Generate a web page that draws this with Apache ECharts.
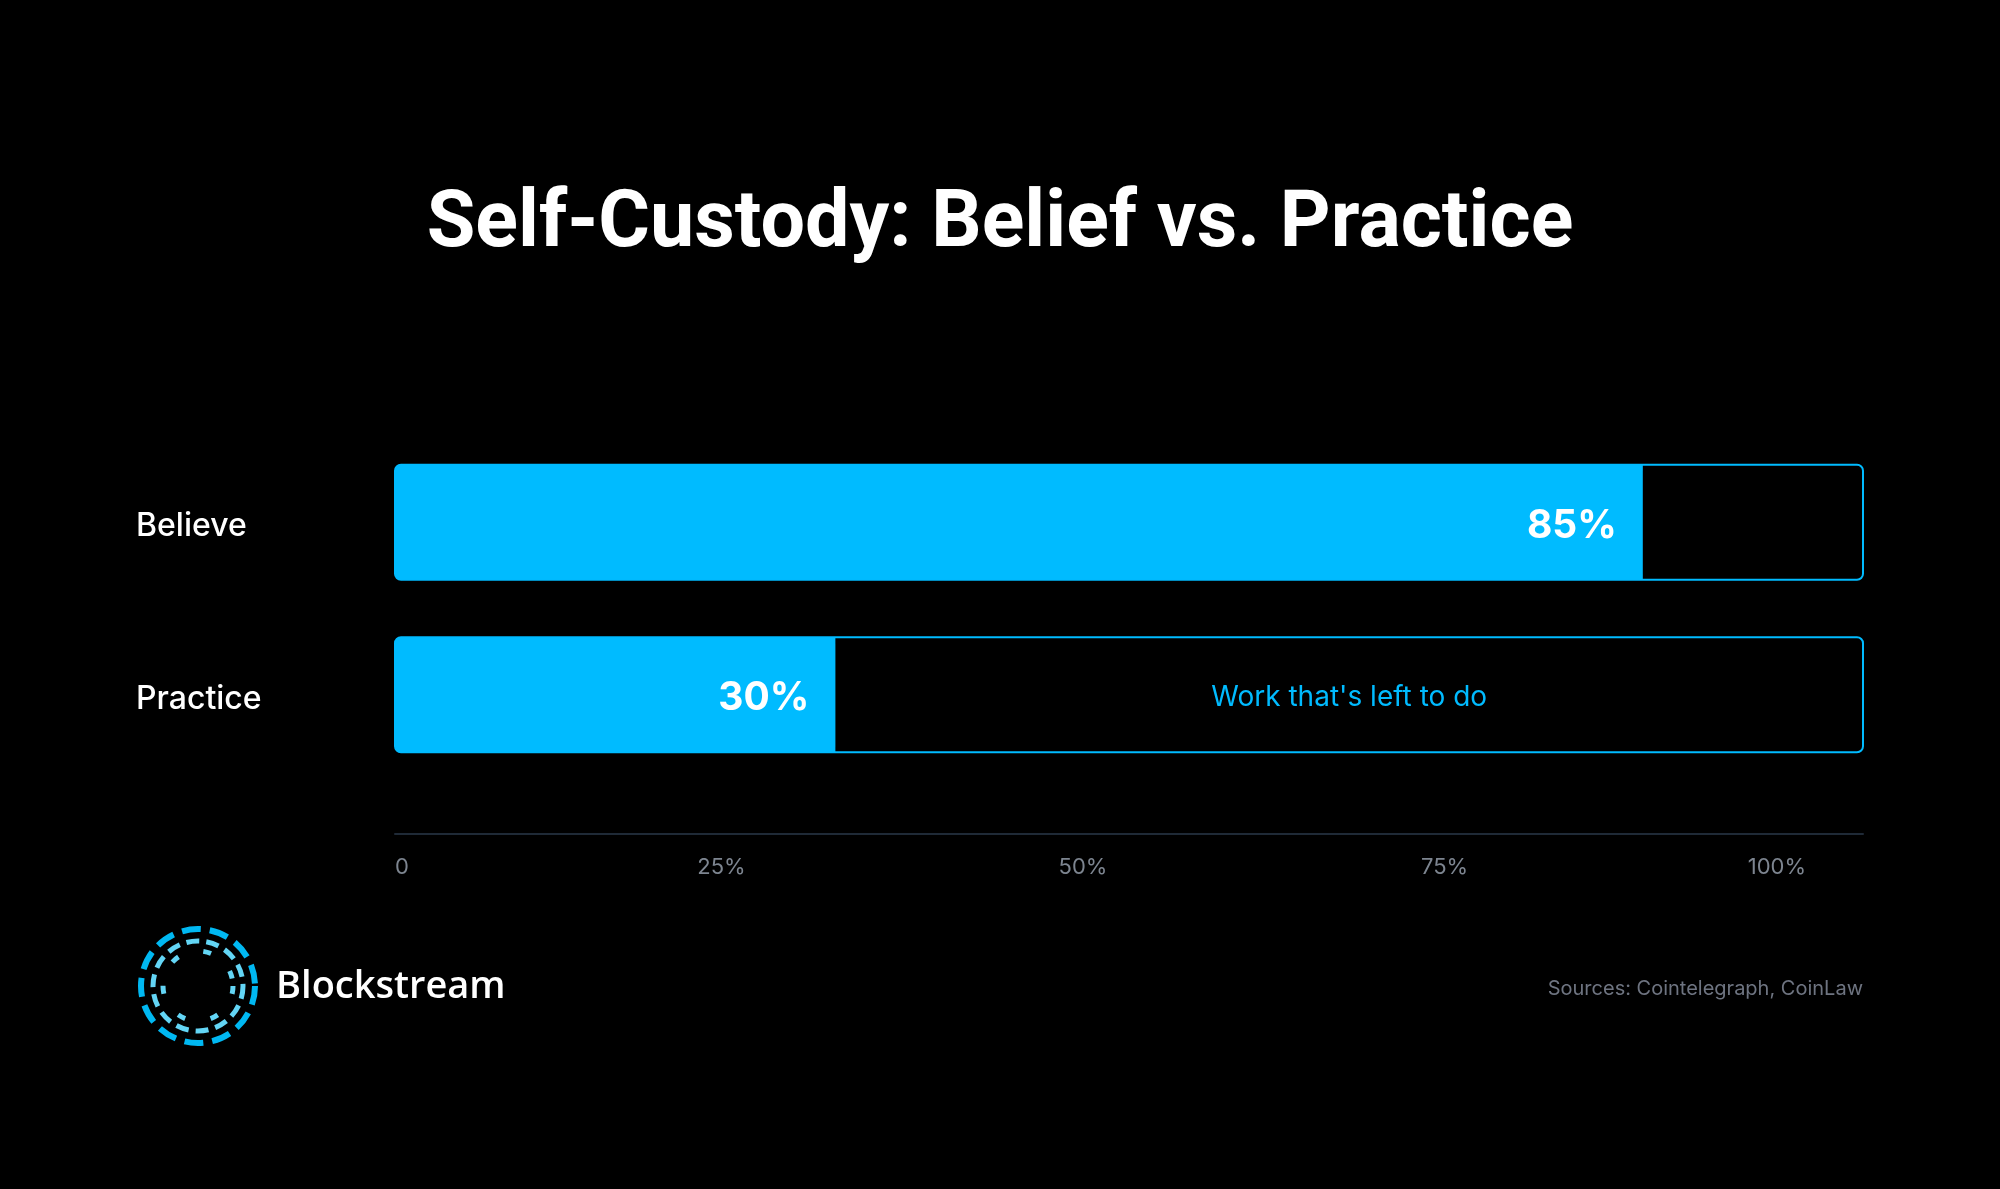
<!DOCTYPE html>
<html>
<head>
<meta charset="utf-8">
<style>
  html, body { margin: 0; padding: 0; background: #000; }
  #chart { width: 2000px; height: 1189px; }
</style>
<script src="https://cdn.jsdelivr.net/npm/echarts@6/dist/echarts.min.js"></script>
</head>
<body>
<div id="chart"></div>
<script>
var categories = ['Believe', 'Practice'];
var values = [85, 30];
var remainNotes = ['', "Work that's left to do"];
var tickValues = [0, 25, 50, 75, 100];
var tickLabels = ['0', '25%', '50%', '75%', '100%'];

var blue = '#00BBFF';
var myChart = echarts.init(document.getElementById('chart'));

var option = {
    backgroundColor: '#000',
    title: {
        text: 'Self-Custody: Belief vs. Practice',
        left: 'center',
        top: 182,
        textStyle: {
            color: '#fff',
            fontFamily: 'Roboto',
            fontWeight: 'bold',
            fontSize: 79
        }
    },
    grid: [
        { left: 395, right: 137, top: 436, height: 345 },
        { left: 360, width: 1446, top: 436, height: 398 }
    ],
    xAxis: [{
        type: 'value',
        min: 0,
        max: 100,
        position: 'bottom',
        offset: 53,
        axisLine: { show: true, lineStyle: { color: '#1f2a37', width: 2 } },
        axisTick: { show: false },
        axisLabel: { show: false },
        splitLine: { show: false }
    }, {
        type: 'value',
        gridIndex: 1,
        min: 0,
        max: 100,
        interval: 25,
        axisLine: { show: false },
        axisTick: { show: false },
        splitLine: { show: false },
        axisLabel: {
            margin: 22,
            color: '#7d8590',
            fontFamily: 'Inter',
            fontSize: 22,
            alignMinLabel: 'left',
            alignMaxLabel: 'right',
            formatter: function (v) {
                var i = tickValues.indexOf(v);
                var t = i >= 0 ? tickLabels[i] : '';
                return i === 0 ? '{first|' + t + '}' : t;
            },
            rich: {
                first: { padding: [0, 0, 0, 35], color: '#7d8590', fontFamily: 'Inter', fontSize: 22 }
            }
        }
    }],
    yAxis: [{
        type: 'category',
        data: categories,
        inverse: true,
        axisLine: { show: false },
        axisTick: { show: false },
        axisLabel: {
            align: 'left',
            margin: 259,
            formatter: '{cat|{value}}',
            rich: {
                cat: {
                    padding: [9, 0, 0, 0],
                    color: '#fff',
                    fontFamily: 'Inter',
                    fontWeight: 500,
                    fontSize: 32
                }
            }
        }
    }, {
        type: 'value',
        gridIndex: 1,
        show: false
    }],
    series: [{
        type: 'bar',
        stack: 'total',
        data: values,
        barWidth: 115,
        showBackground: true,
        backgroundStyle: {
            color: 'rgba(0,0,0,0)',
            borderColor: blue,
            borderWidth: 2,
            borderRadius: 6
        },
        itemStyle: { color: blue, borderRadius: [6, 0, 0, 6] },
        label: {
            show: true,
            position: 'insideRight',
            distance: 26,
            offset: [0, 4],
            formatter: '{c}%',
            color: '#fff',
            fontFamily: 'Inter',
            fontWeight: 'bold',
            fontSize: 39
        }
    }, {
        type: 'bar',
        stack: 'total',
        data: values.map(function (v) { return 100 - v; }),
        barWidth: 115,
        itemStyle: { color: 'rgba(0,0,0,0)' },
        label: {
            show: true,
            position: 'inside',
            offset: [0, 3],
            formatter: function (p) { return remainNotes[p.dataIndex]; },
            color: blue,
            fontFamily: 'Inter',
            fontSize: 28
        }
    }],
    graphic: [
        { type: 'circle', shape: { cx: 198, cy: 986, r: 57 },
          style: { fill: 'none', stroke: '#00b8f2', lineWidth: 6, lineDash: [19, 9] } },
        { type: 'circle', shape: { cx: 198, cy: 986, r: 45 },
          style: { fill: 'none', stroke: '#63d5f5', lineWidth: 5, lineDash: [13, 7] } },
        { type: 'circle', shape: { cx: 198, cy: 986, r: 35 },
          style: { fill: 'none', stroke: '#63d5f5', lineWidth: 5, lineDash: [8, 26] } },
        { type: 'text', left: 276, top: 968,
          style: { text: 'Blockstream', fill: '#fff', font: '600 38px "Open Sans"' } },
        { type: 'text', right: 137, top: 979,
          style: { text: 'Sources: Cointelegraph, CoinLaw', fill: '#6e7481', font: '20px Inter' } }
    ]
};

myChart.setOption(option);
</script>
</body>
</html>
